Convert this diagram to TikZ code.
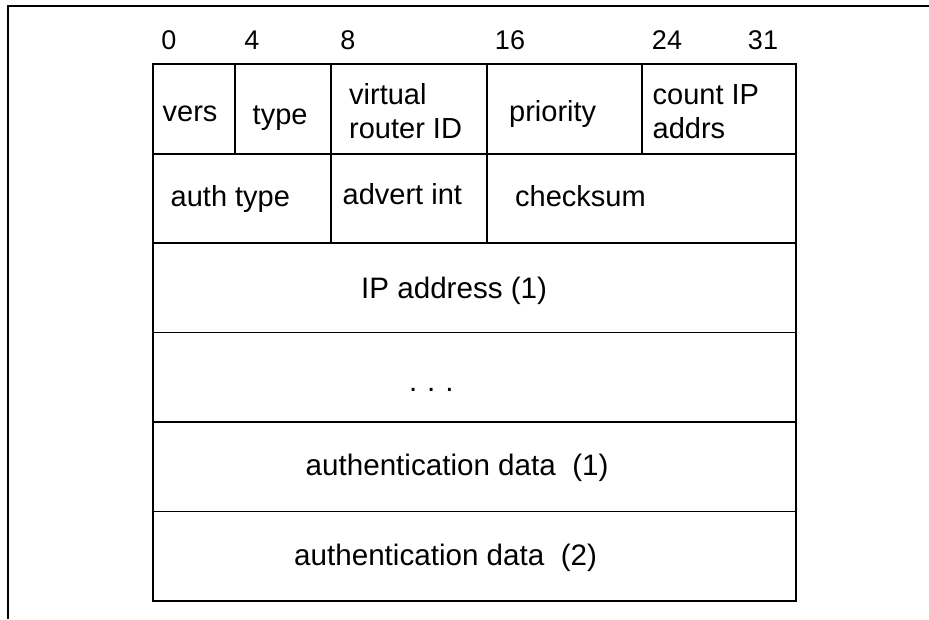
\documentclass[tikz,border=0pt]{standalone}
\usepackage{fontspec}
\setmainfont{Liberation Sans}
\begin{document}
\begin{tikzpicture}[x=1pt,y=-1pt,
  grid/.style={line width=1.4pt, black},
  frame/.style={line width=1.1pt, black},
  lbl/.style={anchor=base west, inner sep=0pt, font=\fontsize{29}{34}\selectfont},
  bit/.style={anchor=base, inner sep=0pt, font=\fontsize{27}{32}\selectfont},
  wide/.style={anchor=base west, inner sep=0pt, font=\fontsize{29.6}{36}\selectfont}]
\useasboundingbox (0,0) rectangle (929,619);
% outer frame (top and left only)
\draw[frame] (8,619) -- (8,6) -- (929,6);
% table grid
\draw[grid] (153,64) rectangle (796,601);
\foreach \yy in {154,243,332.5,422,511.5} \draw[grid] (153,\yy) -- (796,\yy);
\foreach \xx in {235,642} \draw[grid] (\xx,64) -- (\xx,154);
\foreach \xx in {331,487} \draw[grid] (\xx,64) -- (\xx,243);
% bit numbers
\node[bit] (b0) at (169,49) {0};
\node[bit] (b4) at (252,49) {4};
\node[bit] (b8) at (348,49) {8};
\node[bit] (b16) at (510,49) {16};
\node[bit] (b24) at (667,49) {24};
\node[bit] (b31) at (763,49) {31};
% row 1
\node[lbl] (vers) at (162.5,121.5) {vers};
\node[lbl] (type) at (252.5,124.5) {type};
\node[lbl] (vr1) at (349,104) {virtual};
\node[lbl] (vr2) at (349,138.5) {router ID};
\node[lbl] (prio) at (509,121.5) {priority};
\node[lbl] (cnt1) at (652.5,104) {count IP};
\node[lbl] (cnt2) at (652.5,138.5) {addrs};
% row 2
\node[lbl] (auth) at (170.5,206.5) {auth type};
\node[lbl] (adv) at (342.5,204) {advert int};
\node[lbl] (chk) at (515,206.5) {checksum};
% rows 3-6
\node[wide] (ip) at (361,298.5) {IP address (1)};
\node[wide] (dots) at (409,391) {.\hspace{9.8pt}.\hspace{9.8pt}.};
\node[wide] (ad1) at (305.5,475) {authentication data\ \ (1)};
\node[wide] (ad2) at (294,565) {authentication data\ \ (2)};
\end{tikzpicture}
\end{document}
